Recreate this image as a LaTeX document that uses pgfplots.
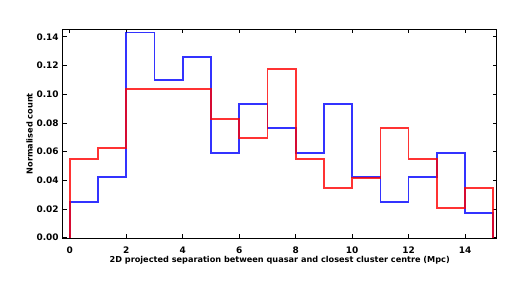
\documentclass[border=0pt]{standalone}
\usepackage{fontspec}
\setmainfont{DejaVu Sans}
\usepackage{pgfplots}
\pgfplotsset{compat=1.18}
\begin{document}
\begin{tikzpicture}[x=1bp,y=1bp]
\path[use as bounding box] (0,0) rectangle (529,294);
\begin{axis}[
  at={(62.7bp,55.7bp)}, anchor=south west,
  scale only axis, width=434bp, height=209bp,
  xmin=-0.25, xmax=15.12, ymin=-0.0004, ymax=0.1452,
  xtick={0,2,...,14}, ytick={0,0.02,...,0.14},
  yticklabel style={xshift=-0.5bp, /pgf/number format/.cd,fixed,fixed zerofill,precision=2},
  /pgf/number format/assume math mode=true,
  tick label style={font=\fontsize{9}{10}\selectfont\bfseries},
  label style={font=\fontsize{8.2}{9}\selectfont\bfseries},
  xlabel={2D projected separation between quasar and closest cluster centre (Mpc)},
  ylabel={Normalised count},
  major tick length=4bp,
  tick style={black, line width=0.6bp},
  axis line style={line width=1bp},
  xticklabel style={yshift=-5bp},
  xlabel style={yshift=4bp},
  ylabel style={yshift=-3bp},
]
\addplot[const plot, blue, line width=1.7bp, draw opacity=0.8] coordinates {
(0,0) (0,0.025) (1,0.0425) (2,0.143) (3,0.110) (4,0.126) (5,0.0588) (6,0.093) (7,0.0762)
(8,0.0588) (9,0.093) (10,0.0425) (11,0.025) (12,0.0425) (13,0.0588) (14,0.0174) (15,0.0174) (15,0)};
\addplot[const plot, red, line width=1.7bp, draw opacity=0.8] coordinates {
(0,0) (0,0.0549) (1,0.0627) (2,0.1034) (3,0.1034) (4,0.1034) (5,0.0827) (6,0.0693) (7,0.1176)
(8,0.0549) (9,0.0344) (10,0.0414) (11,0.0762) (12,0.0549) (13,0.0205) (14,0.0344) (15,0.0344) (15,0)};
\end{axis}
\end{tikzpicture}
\end{document}
